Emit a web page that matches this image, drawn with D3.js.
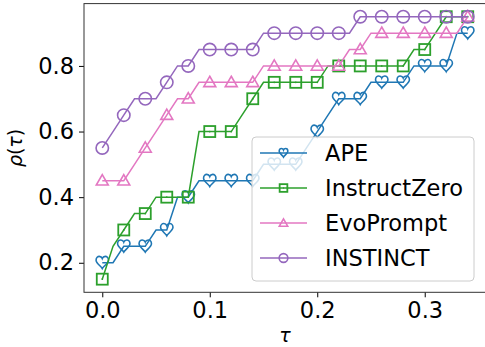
<!DOCTYPE html>
<html>
<head>
<meta charset="utf-8">
<script src="https://cdn.jsdelivr.net/npm/d3@7"></script>
<style>
  body { margin: 0; background: #fff; }
  svg { display: block; font-family: "DejaVu Sans", sans-serif; }
</style>
</head>
<body>
<div id="chart"></div>
<script>
// performance profile rho(tau) for four prompt optimisation methods

// tau grid (one point every 0.01), markers on every second point
const tau = [0.00, 0.01, 0.02, 0.03, 0.04, 0.05, 0.06, 0.07, 0.08, 0.09,
             0.10, 0.11, 0.12, 0.13, 0.14, 0.15, 0.16, 0.17, 0.18, 0.19,
             0.20, 0.21, 0.22, 0.23, 0.24, 0.25, 0.26, 0.27, 0.28, 0.29,
             0.30, 0.31, 0.32, 0.33, 0.34];

const ape = [0.20, 0.20, 0.25, 0.25, 0.25, 0.30, 0.30, 0.40, 0.40, 0.45,
             0.45, 0.45, 0.45, 0.45, 0.45, 0.50, 0.50, 0.50, 0.50, 0.55,
             0.60, 0.65, 0.70, 0.70, 0.70, 0.75, 0.75, 0.75, 0.75, 0.80,
             0.80, 0.80, 0.80, 0.90, 0.90];

const instructZero = [0.15, 0.25, 0.30, 0.35, 0.35, 0.40, 0.40, 0.40, 0.40, 0.60,
                      0.60, 0.60, 0.60, 0.65, 0.70, 0.75, 0.75, 0.75, 0.75, 0.75,
                      0.75, 0.80, 0.80, 0.80, 0.80, 0.80, 0.80, 0.80, 0.80, 0.85,
                      0.85, 0.90, 0.95, 0.95, 0.95];

const evoPrompt = [0.45, 0.45, 0.45, 0.50, 0.55, 0.60, 0.65, 0.70, 0.70, 0.75,
                   0.75, 0.75, 0.75, 0.75, 0.75, 0.80, 0.80, 0.80, 0.80, 0.80,
                   0.80, 0.80, 0.80, 0.85, 0.85, 0.90, 0.90, 0.90, 0.90, 0.90,
                   0.90, 0.90, 0.90, 0.90, 0.95];

const instinct = [0.55, 0.60, 0.65, 0.70, 0.70, 0.70, 0.75, 0.80, 0.80, 0.85,
                  0.85, 0.85, 0.85, 0.85, 0.85, 0.90, 0.90, 0.90, 0.90, 0.90,
                  0.90, 0.90, 0.90, 0.90, 0.95, 0.95, 0.95, 0.95, 0.95, 0.95,
                  0.95, 0.95, 0.95, 0.95, 0.95];

const xTicks = [0.0, 0.1, 0.2, 0.3];
const yTicks = [0.2, 0.4, 0.6, 0.8];

const series = [
  { name: "APE", values: ape, color: "#1f77b4", marker: "heart" },
  { name: "InstructZero", values: instructZero, color: "#2ca02c", marker: "boxdot" },
  { name: "EvoPrompt", values: evoPrompt, color: "#e377c2", marker: "triangle" },
  { name: "INSTINCT", values: instinct, color: "#9467bd", marker: "circle" }
];

// dimensions
const width = 485;
const height = 347;
const plot = { left: 84, right: 486, top: 3.6, bottom: 292.3 };

const svg = d3.select("#chart").append("svg")
  .attr("width", width)
  .attr("height", height);

// scales (matplotlib-like 5% margins)
const x = d3.scaleLinear().domain([-0.017, 0.357]).range([plot.left, plot.right]);
const y = d3.scaleLinear().domain([0.11, 0.99]).range([plot.bottom, plot.top]);

// marker drawing helper
function drawMarker(sel, type, color, s) {
  if (type === "heart") {
    sel.append("path")
      .attr("d", "M0,5.8 C-1.2,3.6 -6.2,0.4 -6.2,-2.6 C-6.2,-5.2 -4.4,-6.4 -3,-6.4 " +
                 "C-1.5,-6.4 -0.4,-5.4 0,-4.3 C0.4,-5.4 1.5,-6.4 3,-6.4 " +
                 "C4.4,-6.4 6.2,-5.2 6.2,-2.6 C6.2,0.4 1.2,3.6 0,5.8 Z")
      .attr("transform", `scale(${s})`)
      .attr("fill", "none").attr("stroke", color).attr("stroke-width", 1.6 / s);
  } else if (type === "boxdot") {
    sel.append("rect")
      .attr("x", -5.5 * s).attr("y", -5.5 * s)
      .attr("width", 11 * s).attr("height", 11 * s)
      .attr("fill", "none").attr("stroke", color).attr("stroke-width", 1.8);
    sel.append("circle").attr("r", 0.9 * s).attr("fill", color);
  } else if (type === "triangle") {
    sel.append("path")
      .attr("d", d3.symbol(d3.symbolTriangle, 62 * s * s))
      .attr("transform", "translate(0,0.8)")
      .attr("fill", "none").attr("stroke", color).attr("stroke-width", 1.6);
  } else {
    sel.append("circle").attr("r", 6.2 * s)
      .attr("fill", "none").attr("stroke", color).attr("stroke-width", 1.6);
  }
}

// axes
const xAxis = svg.append("g")
  .attr("transform", `translate(0,${plot.bottom})`)
  .call(d3.axisBottom(x).tickValues(xTicks).tickFormat(d3.format(".1f"))
    .tickSize(5).tickPadding(5));

const yAxis = svg.append("g")
  .attr("transform", `translate(${plot.left},0)`)
  .call(d3.axisLeft(y).tickValues(yTicks).tickFormat(d3.format(".1f"))
    .tickSize(5).tickPadding(5));

[xAxis, yAxis].forEach(a => {
  a.select(".domain").remove();
  a.selectAll("line").attr("stroke", "#000").attr("stroke-width", 1);
  a.selectAll("text").attr("fill", "#000")
    .style("font-size", "22.5px").style("font-family", "DejaVu Sans");
});

// lines and markers
const line = d3.line()
  .x((d, i) => x(tau[i]))
  .y(d => y(d));

series.forEach(s => {
  const g = svg.append("g");
  g.append("path")
    .attr("d", line(s.values))
    .attr("fill", "none")
    .attr("stroke", s.color)
    .attr("stroke-width", 1.5);

  g.selectAll("g.mk")
    .data(s.values.map((v, i) => ({ t: tau[i], v })).filter((d, i) => i % 2 === 0))
    .join("g")
    .attr("class", "mk")
    .attr("transform", d => `translate(${x(d.t)},${y(d.v)})`)
    .each(function () { drawMarker(d3.select(this), s.marker, s.color, 1); });
});

// frame
svg.append("rect")
  .attr("x", plot.left).attr("y", plot.top)
  .attr("width", plot.right - plot.left).attr("height", plot.bottom - plot.top)
  .attr("fill", "none").attr("stroke", "#333").attr("stroke-width", 1);

// axis labels (mathtext-like)
svg.append("text")
  .attr("x", (plot.left + plot.right) / 2)
  .attr("y", 342)
  .attr("text-anchor", "middle")
  .style("font-size", "19px")
  .style("font-style", "italic")
  .text("τ");

const yl = svg.append("text")
  .attr("transform", `translate(22,${(plot.top + plot.bottom) / 2}) rotate(-90)`)
  .attr("text-anchor", "middle")
  .style("font-size", "19px");
yl.append("tspan").style("font-style", "italic").text("ρ");
yl.append("tspan").text("(");
yl.append("tspan").style("font-style", "italic").text("τ");
yl.append("tspan").text(")");

// legend
const legend = svg.append("g");
legend.append("rect")
  .attr("x", 252).attr("y", 137)
  .attr("width", 222).attr("height", 144)
  .attr("rx", 4)
  .attr("fill", "#fff").attr("fill-opacity", 0.8)
  .attr("stroke", "#cccccc").attr("stroke-width", 1);

const rowY = d3.scalePoint().domain(series.map(s => s.name)).range([153, 258]);

series.forEach(s => {
  const row = legend.append("g").attr("transform", `translate(0,${rowY(s.name)})`);
  row.append("line")
    .attr("x1", 260).attr("x2", 307)
    .attr("stroke", s.color).attr("stroke-width", 1.5);
  const m = row.append("g").attr("transform", "translate(283.5,0)");
  drawMarker(m, s.marker, s.color, 0.7);
  row.append("text")
    .attr("x", 325).attr("dy", "0.36em")
    .style("font-size", "22.5px")
    .text(s.name);
});
</script>
</body>
</html>
